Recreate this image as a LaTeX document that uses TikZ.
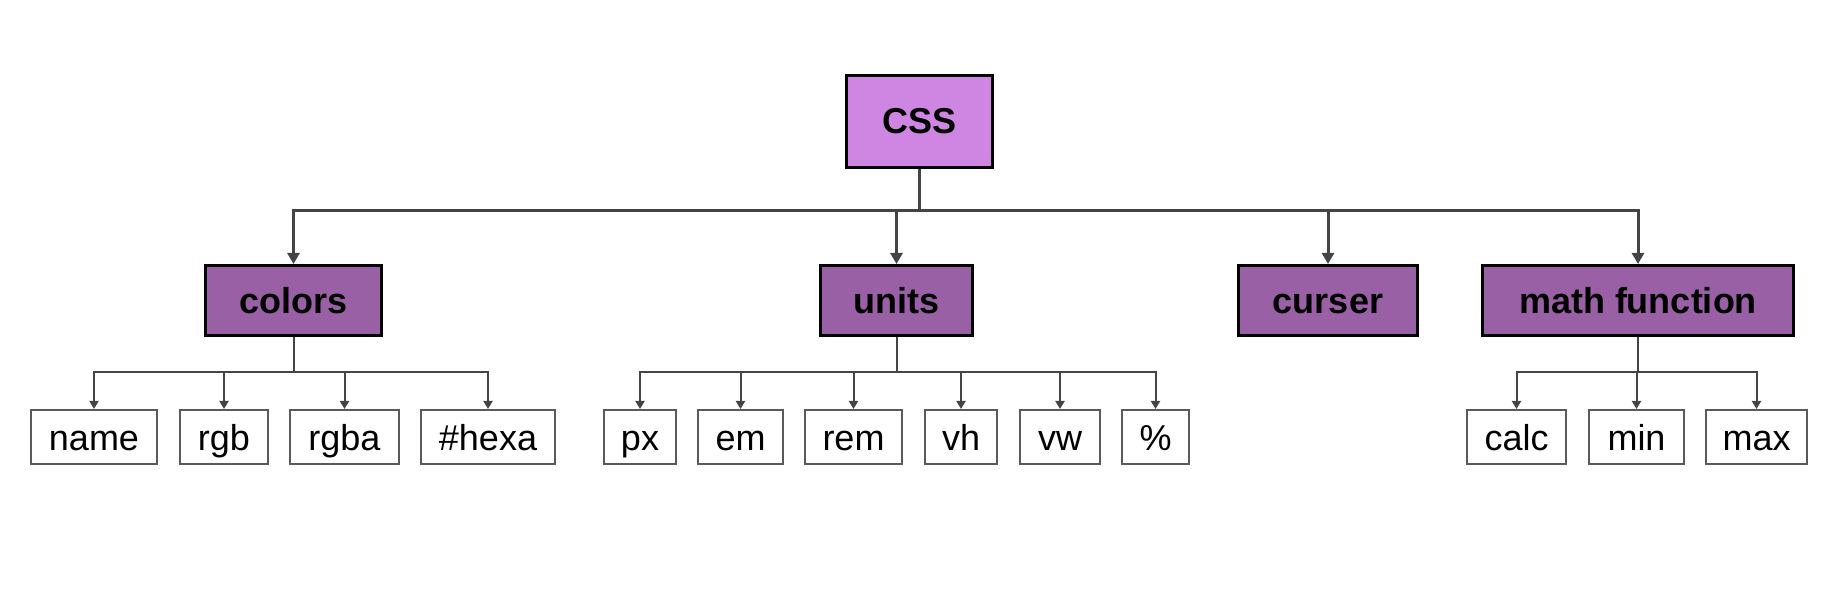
\documentclass[tikz,border=0pt]{standalone}
\usepackage{fontspec}
\setmainfont{Liberation Sans}
\usetikzlibrary{arrows.meta}
\definecolor{rootfill}{HTML}{CF86E2}
\definecolor{midfill}{HTML}{9A60A5}
\definecolor{conn}{HTML}{444444}
\definecolor{leafline}{HTML}{5A5A5A}
\tikzset{
  rootbox/.style={draw=black, line width=3pt, fill=rootfill, inner sep=0pt,
    minimum width=146pt, minimum height=92pt, text height=31pt, text depth=7pt,
    font=\fontsize{36}{40}\selectfont\bfseries},
  midbox/.style={draw=black, line width=3pt, fill=midfill, inner sep=0pt,
    minimum height=70pt, text height=33pt, text depth=6pt,
    font=\fontsize{36}{40}\selectfont\bfseries},
  leafbox/.style={draw=leafline, line width=2pt, fill=white, inner sep=0pt,
    minimum height=54pt, text height=33pt, text depth=6pt,
    font=\fontsize{36}{40}\selectfont},
  mainconn/.style={draw=conn, line width=3pt, -{Triangle[length=11pt,width=12pt]}},
  leafconn/.style={draw=conn, line width=2pt, -{Triangle[length=8pt,width=9pt]}},
}
\begin{document}
\begin{tikzpicture}[x=1pt,y=1pt]
\useasboundingbox (0,0) rectangle (1847,597);
% root
\node[rootbox] (css) at (919.5,475.5) {CSS};
% middle level
\node[midbox, minimum width=176pt] (colors) at (293.5,296.5) {colors};
\node[midbox, minimum width=152pt] (units) at (896.5,296.5) {units};
\node[midbox, minimum width=179pt] (curser) at (1328,296.5) {curser};
\node[midbox, minimum width=311pt] (math) at (1638,296.5) {math function};
% leaves
\node[leafbox, minimum width=126pt] (name) at (94,160) {name};
\node[leafbox, minimum width=88pt] (rgb) at (224,160) {rgb};
\node[leafbox, minimum width=109pt] (rgba) at (344.5,160) {rgba};
\node[leafbox, minimum width=134pt] (hexa) at (488,160) {\#hexa};
\node[leafbox, minimum width=72pt] (px) at (640,160) {px};
\node[leafbox, minimum width=85pt] (em) at (740.5,160) {em};
\node[leafbox, minimum width=97pt] (rem) at (853.5,160) {rem};
\node[leafbox, minimum width=72pt] (vh) at (961,160) {vh};
\node[leafbox, minimum width=80pt] (vw) at (1060,160) {vw};
\node[leafbox, minimum width=67pt] (pct) at (1155.5,160) {\%};
\node[leafbox, minimum width=99pt] (calc) at (1516.5,160) {calc};
\node[leafbox, minimum width=95pt] (min) at (1636.5,160) {min};
\node[leafbox, minimum width=101pt] (max) at (1756.5,160) {max};
% bars
\coordinate (mainbar) at (0,386);
\coordinate (leafbar) at (0,225);
% root connectors
\foreach \c in {colors,units,curser,math}{
  \draw[mainconn] (css.south) -- (css.south |- mainbar) -| (\c.north);
}
% leaf connectors
\foreach \c in {name,rgb,rgba,hexa}{
  \draw[leafconn] (colors.south) -- (colors.south |- leafbar) -| (\c.north);
}
\foreach \c in {px,em,rem,vh,vw,pct}{
  \draw[leafconn] (units.south) -- (units.south |- leafbar) -| (\c.north);
}
\foreach \c in {calc,min,max}{
  \draw[leafconn] (math.south) -- (math.south |- leafbar) -| (\c.north);
}
\end{tikzpicture}
\end{document}
